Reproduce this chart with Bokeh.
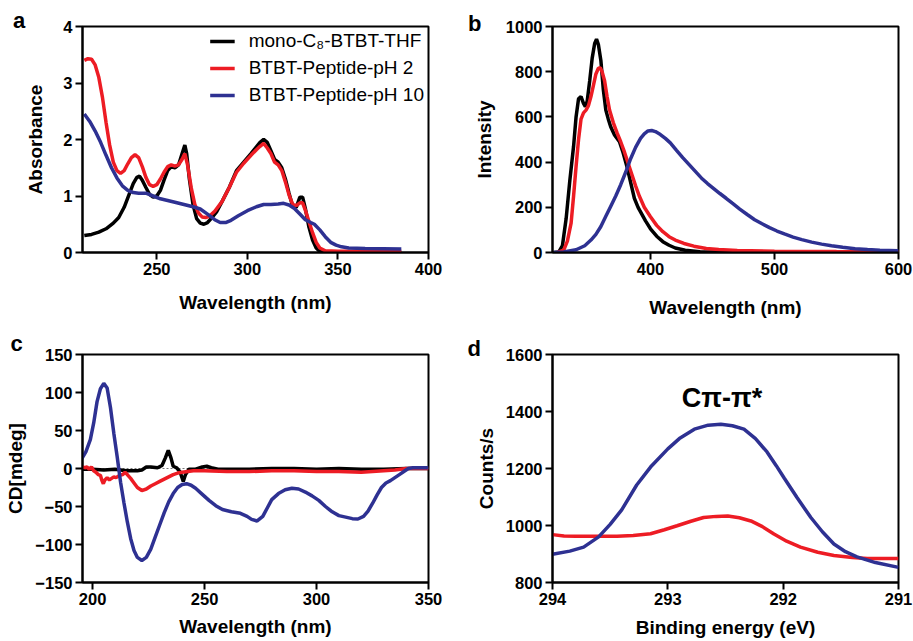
from bokeh.plotting import figure
from bokeh.layouts import gridplot
from bokeh.models import Range1d, FixedTicker, Label, Span, Legend, LegendItem
from bokeh.embed import file_html
from bokeh.resources import INLINE

FONT = "Liberation Sans"
BLACK = "#000000"
RED = "#ED1C24"
BLUE = "#2E3192"
LW = 3.5

# ---------------- data: panel a (absorbance) ----------------
a_black_x = [210, 214, 218, 222, 226, 229, 232, 235, 237, 239, 240.5, 242, 244, 246, 248, 250, 252, 254, 256, 258,
             260, 262, 264, 265.5, 266.5, 268, 270, 272, 274, 276, 278, 280, 283, 286, 290, 294, 298, 302, 305, 307,
             309, 311, 313, 315, 317, 319, 321, 323, 325, 327, 329, 330.5, 332, 334, 336, 338, 340, 345, 385]
a_black_y = [0.30, 0.32, 0.36, 0.42, 0.52, 0.62, 0.80, 1.05, 1.22, 1.33, 1.35, 1.28, 1.15, 1.03, 0.98, 1.00, 1.10, 1.28, 1.45, 1.52,
             1.50, 1.55, 1.75, 1.90, 1.75, 1.30, 0.85, 0.60, 0.52, 0.50, 0.53, 0.60, 0.72, 0.90, 1.15, 1.45, 1.60, 1.75, 1.87, 1.95,
             2.00, 1.95, 1.80, 1.65, 1.60, 1.50, 1.30, 1.05, 0.82, 0.80, 0.98, 0.98, 0.78, 0.45, 0.22, 0.08, 0.02, 0.0, 0.0]
a_red_x = [210, 212, 214, 216, 218, 220, 222, 224, 226, 228, 230, 232, 234, 236, 238, 240, 242, 244, 246, 248,
           250, 252, 254, 256, 258, 260, 262, 264, 265.5, 267, 269, 271, 273, 275, 277, 279, 282, 286, 290, 294,
           298, 302, 305, 307, 309, 311, 313, 315, 317, 319, 321, 323, 325, 327, 329, 330.5, 332, 334, 336, 338,
           340, 343, 350, 385]
a_red_y = [3.40, 3.43, 3.42, 3.32, 3.10, 2.75, 2.30, 1.90, 1.60, 1.45, 1.40, 1.45, 1.57, 1.68, 1.73, 1.68, 1.52, 1.33, 1.20, 1.17,
           1.20, 1.30, 1.42, 1.52, 1.55, 1.53, 1.55, 1.65, 1.75, 1.55, 1.15, 0.85, 0.70, 0.63, 0.62, 0.64, 0.73, 0.90, 1.15, 1.42,
           1.58, 1.72, 1.82, 1.88, 1.93, 1.85, 1.75, 1.60, 1.55, 1.45, 1.25, 1.02, 0.85, 0.83, 0.88, 0.88, 0.75, 0.55, 0.35, 0.18,
           0.08, 0.03, 0.02, 0.02]
a_blue_x = [210, 213, 216, 219, 222, 225, 228, 231, 234, 237, 240, 244, 248, 252, 256, 260, 265, 270, 274, 278,
            282, 285, 288, 291, 295, 300, 305, 309, 313, 317, 320, 323, 326, 329, 332, 335, 337, 340, 343, 346,
            349, 352, 356, 365, 385]
a_blue_y = [2.45, 2.32, 2.15, 1.95, 1.72, 1.50, 1.32, 1.18, 1.10, 1.06, 1.05, 1.05, 1.00, 0.95, 0.92, 0.89, 0.85, 0.81, 0.77, 0.68,
            0.58, 0.53, 0.53, 0.57, 0.65, 0.74, 0.81, 0.85, 0.85, 0.86, 0.87, 0.84, 0.78, 0.68, 0.58, 0.53, 0.50, 0.40, 0.28, 0.18,
            0.13, 0.10, 0.08, 0.07, 0.06]

# ---------------- data: panel b (emission) ----------------
b_black_x = [322, 326, 329, 332, 335, 338, 340, 342, 344, 346, 347.5, 349, 351, 353, 355, 356.5, 358, 360, 362, 364,
             366, 368, 371, 375, 378, 381, 384, 387, 390, 393, 396, 400, 405, 410, 415, 420, 428, 440, 460, 600]
b_black_y = [0, 2, 30, 150, 320, 470, 600, 680, 690, 660, 645, 670, 760, 860, 925, 944, 920, 850, 720, 630,
             590, 555, 520, 490, 440, 380, 310, 240, 200, 170, 140, 105, 72, 48, 32, 20, 10, 3, 1, 0]
b_red_x = [325, 330, 333, 336, 338, 340, 342, 344, 346, 348, 350, 352, 354, 356, 358, 359.5, 361, 363, 365, 367,
           370, 373, 376, 379, 382, 385, 388, 391, 395, 400, 405, 410, 415, 420, 427, 435, 445, 455, 470, 500,
           550, 600]
b_red_y = [0, 10, 50, 130, 250, 380, 500, 590, 618, 630, 650, 690, 740, 790, 815, 818, 800, 760, 690, 630,
           575, 530, 490, 445, 395, 345, 295, 250, 200, 158, 120, 92, 70, 55, 40, 28, 18, 13, 9, 6,
           4, 3]
b_blue_x = [322, 330, 340, 347, 352, 356, 360, 364, 368, 372, 376, 380, 384, 388, 392, 395, 398, 401, 404, 408,
            412, 416, 421, 426, 431, 436, 441, 446, 451, 456, 461, 466, 472, 478, 484, 490, 496, 502, 508, 515,
            522, 530, 538, 546, 555, 565, 575, 585, 600]
b_blue_y = [0, 2, 12, 30, 55, 80, 115, 160, 205, 250, 300, 355, 415, 465, 505, 525, 538, 540, 535, 522,
            505, 485, 452, 420, 390, 360, 330, 305, 283, 261, 240, 218, 192, 168, 145, 127, 110, 95, 82, 68,
            57, 46, 37, 30, 23, 17, 13, 10, 8]

# ---------------- data: panel c (CD) ----------------
c_blue_x = [195, 197, 199, 200.5, 202, 203.5, 205, 206.5, 208, 209.5, 211, 212.5, 214, 215.5, 217, 218.5, 220, 222, 224, 226,
            228, 230, 232, 234, 236, 238, 240, 242, 244, 246, 249, 252, 255, 258, 262, 266, 269, 271, 273.5, 276,
            278, 280, 283, 286, 289, 292, 295, 298, 301, 304, 307, 310, 313, 316, 318.5, 321, 323, 325, 327, 329,
            331, 333, 335, 337, 339, 341, 343, 350]
c_blue_y = [12, 22, 38, 60, 88, 105, 112, 106, 80, 46, 15, -18, -45, -70, -92, -108, -117, -121, -117, -106,
            -90, -74, -58, -44, -33, -25, -21, -20, -22, -26, -34, -42, -49, -54, -57, -59, -63, -67, -69, -63,
            -52, -41, -33, -28, -26, -27, -31, -36, -42, -50, -57, -62, -64, -66, -66.5, -63, -56, -46, -35, -25,
            -19, -16, -12, -8, -4, 0, 1, 1]
c_black_x = [195, 200, 205, 210, 215, 220, 222, 224, 226, 229, 231, 232.5, 233.8, 235, 236, 237.5, 239, 240.5, 241.5, 243,
             246, 249, 251, 253, 256, 260, 270, 280, 290, 300, 310, 320, 330, 340, 350]
c_black_y = [-1, -1, -2, -1, -3, -3, -2, 2, 2, 1, 4, 14, 24, 14, 3, 1, -4, -17, -8, -1,
             -1, 2, 3, 1, -1, -1, -1, 0, 0, -1, 0, -1, -1, 0, 0]
c_red_x = [195, 196.5, 197.5, 198.5, 199.5, 200.5, 201.5, 202.5, 203.5, 204.2, 204.8, 205.5, 206.5, 207.5, 208.5, 209.5, 210.5, 212, 213.5, 214.5,
           215.5, 217, 218.5, 220, 222, 224, 226, 228, 230, 232, 234, 236, 238, 240, 245, 250, 260, 270, 280, 290,
           300, 310, 320, 325, 330, 335, 340, 350]
c_red_y = [3, 1, 2, -1, 2, -3, -5, -8, -9, -16, -20, -15, -12, -15, -13, -11, -12, -9, -8, -5,
           -8, -13, -19, -25, -29, -27, -23, -20, -17, -14, -11, -8, -6, -5, -3, -3, -4, -4, -3, -3,
           -4, -4, -5, -4, -3, -2, 0, 0]

# ---------------- data: panel d (XPS) ----------------
d_blue_x = [294, 293.85, 293.73, 293.6, 293.5, 293.4, 293.27, 293.15, 293.0, 292.9, 292.77, 292.65, 292.54, 292.44, 292.34,
            292.24, 292.14, 292.06, 291.99, 291.88, 291.76, 291.66, 291.56, 291.46, 291.36, 291.2, 291.0]
d_blue_y = [899, 910, 924, 960, 1004, 1055, 1142, 1205, 1269, 1305, 1338, 1352, 1355, 1350, 1338,
            1305, 1258, 1210, 1166, 1098, 1028, 978, 935, 908, 890, 870, 853]
d_red_x = [294, 293.9, 293.8, 293.6, 293.44, 293.3, 293.15, 293.03, 292.92, 292.8, 292.69, 292.58, 292.48, 292.38, 292.28,
           292.18, 292.08, 291.97, 291.85, 291.7, 291.56, 291.4, 291.27, 291.0]
d_red_y = [968, 963, 962, 962, 962, 965, 971, 985, 999, 1015, 1028, 1032, 1033, 1027, 1016,
           996, 970, 945, 924, 906, 895, 888, 884, 884]

legend_labels = ["mono-C\u2088-BTBT-THF", "BTBT-Peptide-pH 2", "BTBT-Peptide-pH 10"]
a_xticks = [250, 300, 350, 400]
a_yticks = [0, 1, 2, 3, 4]
b_xticks = [400, 500, 600]
b_yticks = [0, 200, 400, 600, 800, 1000]
c_xticks = [200, 250, 300, 350]
c_yticks = [-150, -100, -50, 0, 50, 100, 150]
d_xticks = [294, 293, 292, 291]
d_yticks = [800, 1000, 1200, 1400, 1600]


def make_fig(w, h, xr, yr, xt, yt, xlabel, ylabel, ml, mr, mt, mb, xstand, ystand, lab_size="19px"):
    p = figure(width=w, height=h, x_range=Range1d(*xr), y_range=Range1d(*yr),
               output_backend="svg", toolbar_location=None,
               min_border_left=ml, min_border_right=mr, min_border_top=mt, min_border_bottom=mb)
    p.xgrid.visible = False
    p.ygrid.visible = False
    p.outline_line_color = "black"
    p.outline_line_width = 2
    p.outline_line_alpha = 1
    p.background_fill_color = "white"
    p.border_fill_color = "white"
    for ax in (p.xaxis[0], p.yaxis[0]):
        ax.axis_line_width = 2
        ax.axis_line_color = "black"
        ax.major_tick_line_width = 2
        ax.major_tick_line_color = "black"
        ax.major_tick_out = 7
        ax.major_tick_in = 0
        ax.minor_tick_line_color = None
        ax.major_label_text_font = FONT
        ax.major_label_text_font_style = "bold"
        ax.major_label_text_font_size = "16.5px"
        ax.major_label_text_color = "black"
        ax.major_label_standoff = 3
        ax.axis_label_text_font = FONT
        ax.axis_label_text_font_style = "bold"
        ax.axis_label_text_font_size = lab_size
        ax.axis_label_text_color = "black"
    p.xaxis[0].ticker = FixedTicker(ticks=xt)
    p.yaxis[0].ticker = FixedTicker(ticks=yt)
    p.xaxis[0].axis_label = xlabel
    p.yaxis[0].axis_label = ylabel
    p.xaxis[0].axis_label_standoff = xstand
    p.yaxis[0].axis_label_standoff = ystand
    return p


def panel_label(p, x, y, t):
    p.add_layout(Label(x=x, y=y, text=t, text_font=FONT, text_font_style="bold",
                       text_font_size="22px", text_color="black",
                       text_align="left", text_baseline="alphabetic"), "above")


# panel a
pa = make_fig(455, 320, (209, 400), (0, 4), a_xticks, a_yticks, "Wavelength (nm)", "Absorbance",
              82, 25, 26, 63, 14, 14)
ra1 = pa.line(a_black_x, a_black_y, line_color=BLACK, line_width=LW)
ra2 = pa.line(a_red_x, a_red_y, line_color=RED, line_width=LW)
ra3 = pa.line(a_blue_x, a_blue_y, line_color=BLUE, line_width=LW)
leg = Legend(items=[LegendItem(label=legend_labels[0], renderers=[ra1]),
                    LegendItem(label=legend_labels[1], renderers=[ra2]),
                    LegendItem(label=legend_labels[2], renderers=[ra3])],
             location="top_right", border_line_color=None, background_fill_alpha=0,
             label_text_font=FONT, label_text_font_size="19px", label_text_color="black",
             glyph_width=25, glyph_height=20, label_height=20, label_standoff=14,
             spacing=5, padding=4, margin=4)
pa.add_layout(leg)
panel_label(pa, 170.6, 4.10, "a")

# panel b
pb = make_fig(458, 320, (321, 600), (0, 1000), b_xticks, b_yticks, "Wavelength (nm)", "Intensity",
              97, 13, 26, 63, 19, 8)
pb.line(b_black_x, b_black_y, line_color=BLACK, line_width=LW)
pb.line(b_red_x, b_red_y, line_color=RED, line_width=LW)
pb.line(b_blue_x, b_blue_y, line_color=BLUE, line_width=LW)
panel_label(pb, 252.9, 1013, "b")

# panel c
pc = make_fig(455, 320, (195.5, 350), (-150, 150), c_xticks, c_yticks, "Wavelength (nm)", "CD[mdeg]",
              82, 27, 33, 55, 8, 6)
pc.add_layout(Span(location=0, dimension="width", line_color="#777777", line_dash="2 2",
                   line_width=1, level="underlay"))
pc.line(c_black_x, c_black_y, line_color=BLACK, line_width=LW)
pc.line(c_red_x, c_red_y, line_color=RED, line_width=LW)
pc.line(c_blue_x, c_blue_y, line_color=BLUE, line_width=LW)
panel_label(pc, 163.3, 164.5, "c")

# panel d
pd_ = make_fig(458, 320, (294, 291), (800, 1600), d_xticks, d_yticks, "Binding energy (eV)", "Counts/s",
               97, 15, 34, 54, 9, 6)
pd_.line(d_red_x, d_red_y, line_color=RED, line_width=LW)
pd_.line(d_blue_x, d_blue_y, line_color=BLUE, line_width=LW)
pd_.add_layout(Label(x=292.53, y=1448, text="C\u03c0-\u03c0*", text_font=FONT, text_font_style="bold",
                     text_font_size="27px", text_color="black", text_align="center",
                     text_baseline="alphabetic"))
panel_label(pd_, 294.737, 1620, "d")

grid = gridplot([[pa, pb], [pc, pd_]], toolbar_location=None)
open("out.html", "w").write(file_html(grid, INLINE))
